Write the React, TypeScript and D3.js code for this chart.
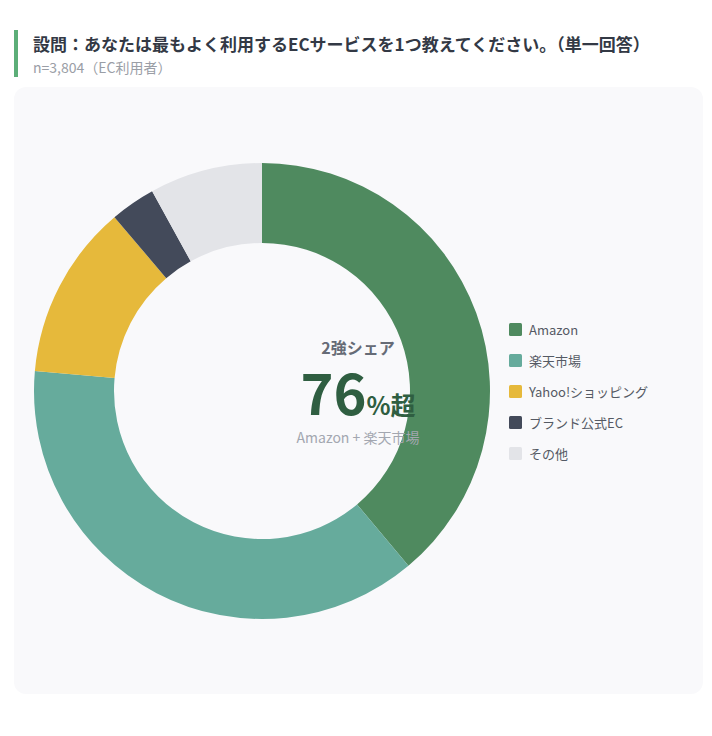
import React, { useEffect, useRef } from 'react';
import * as d3 from 'd3';

// shares (%)
const labels = ['Amazon', '楽天市場', 'Yahoo!ショッピング', 'ブランド公式EC', 'その他'];
const shares = [38.9, 37.5, 12.4, 3.2, 8.0];
const colors = ['#4f8a5f', '#66ab9c', '#e6b93b', '#434a5a', '#e3e4e8'];

const title = '設問：あなたは最もよく利用するECサービスを1つ教えてください。（単一回答）';
const subtitle = 'n=3,804（EC利用者）';
const centerTop = '2強シェア';
const centerValue = '76';
const centerUnit = '%超';
const centerNote = 'Amazon + 楽天市場';

const W = 712;
const H = 736;
const FONT = '"Noto Sans CJK JP", "Noto Sans", sans-serif';

const App = () => {
  const ref = useRef(null);

  useEffect(() => {
    document.body.style.margin = '0';
    const svg = d3.select(ref.current);
    svg.selectAll('*').remove();

    // header
    svg.append('rect')
      .attr('x', 14).attr('y', 30).attr('width', 4).attr('height', 47)
      .attr('fill', '#5cae78');
    svg.append('text')
      .attr('x', 33).attr('y', 51)
      .attr('font-size', 17).attr('font-weight', 700)
      .attr('fill', '#333945')
      .text(title);
    svg.append('text')
      .attr('x', 33).attr('y', 73)
      .attr('font-size', 14).attr('fill', '#9a9ea6')
      .text(subtitle);

    // card
    svg.append('rect')
      .attr('x', 14).attr('y', 87).attr('width', 689).attr('height', 607)
      .attr('rx', 12)
      .attr('fill', '#f9f9fb');

    const cx = 262;
    const cy = 391;
    const g = svg.append('g').attr('transform', `translate(${cx},${cy})`);

    const pie = d3.pie().value(d => d).sort(null);
    const arc = d3.arc().innerRadius(148).outerRadius(228);

    g.selectAll('path')
      .data(pie(shares))
      .enter()
      .append('path')
      .attr('d', arc)
      .attr('fill', (d, i) => colors[i]);

    // center label
    const tx = 358;
    svg.append('text')
      .attr('x', tx).attr('y', 354)
      .attr('text-anchor', 'middle')
      .attr('font-size', 16).attr('font-weight', 700)
      .attr('fill', '#666b76')
      .text(centerTop);
    const big = svg.append('text')
      .attr('x', tx).attr('y', 415)
      .attr('text-anchor', 'middle')
      .attr('font-weight', 700)
      .attr('fill', '#2f5e41');
    big.append('tspan').attr('font-size', 56).text(centerValue);
    big.append('tspan').attr('font-size', 25).text(centerUnit);
    svg.append('text')
      .attr('x', tx).attr('y', 443)
      .attr('text-anchor', 'middle')
      .attr('font-size', 14)
      .attr('fill', '#a3a7b0')
      .text(centerNote);

    // legend
    const ly = d3.scalePoint().domain(labels).range([330, 454]);
    const item = svg.selectAll('g.legend')
      .data(labels)
      .enter()
      .append('g')
      .attr('class', 'legend')
      .attr('transform', d => `translate(509,${ly(d)})`);
    item.append('rect')
      .attr('x', 0).attr('y', -7).attr('width', 13).attr('height', 13)
      .attr('rx', 1.5)
      .attr('fill', (d, i) => colors[i]);
    item.append('text')
      .attr('x', 20).attr('y', 0)
      .attr('dy', '0.35em')
      .attr('font-size', 13)
      .attr('fill', '#555a64')
      .text(d => d);
  }, []);

  return (
    <svg
      ref={ref}
      width={W}
      height={H}
      style={{ display: 'block', fontFamily: FONT, background: '#fff' }}
    />
  );
};

export default App;
